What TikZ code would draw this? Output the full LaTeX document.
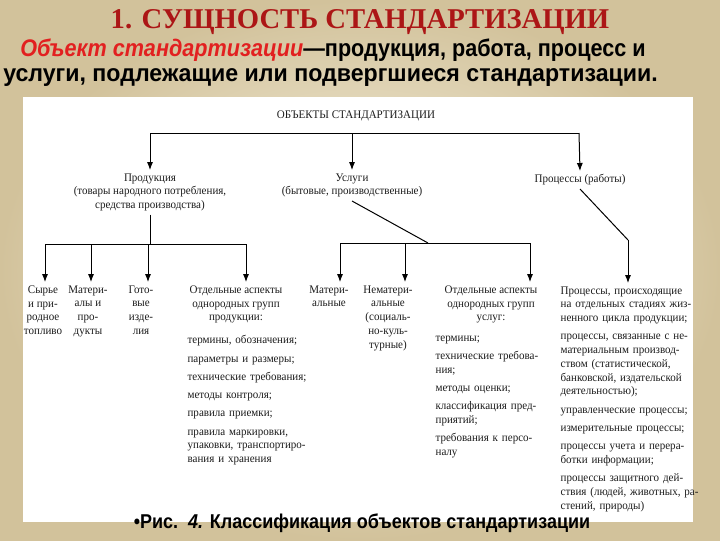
\documentclass[tikz,border=0pt]{standalone}
\usepackage{fontspec}
\setmainfont{Liberation Serif}
\newfontfamily\scanfont[FakeStretch=0.95]{Liberation Serif}
\newfontfamily\slidefont[FakeStretch=0.9]{Liberation Sans}
\newfontfamily\slidewidefont[FakeStretch=0.965]{Liberation Sans}
\usetikzlibrary{arrows.meta}
\definecolor{titlered}{RGB}{172,22,22}
\definecolor{defred}{RGB}{226,32,32}
\definecolor{slidecream}{RGB}{251,247,232}
\definecolor{slidetan}{RGB}{210,194,155}
\definecolor{scanink}{RGB}{28,28,28}
\newcommand{\diagfont}{\scanfont\fontsize{8.7}{10.3}\selectfont}
\newcommand{\fl}[1]{\makebox[\hsize][s]{#1}}
\tikzset{link/.style={line width=0.75pt}, arr/.style={link,-{Latex[length=6pt,width=4.6pt]}},
  lbl/.style={inner sep=2.5pt, font=\diagfont, text=scanink, align=center},
  lst/.style={lbl, align=left, anchor=north west}}

\begin{document}
\begin{tikzpicture}[x=0.75pt,y=-0.75pt]
   \useasboundingbox (0,0) rectangle (720,540);
   \shade[inner color=slidecream, outer color=slidetan] (0,0) rectangle (720,540);
   \fill[white] (23,97) rectangle (693,522);
   % slide header
   \node[text=titlered, font=\fontsize{21.5}{24}\selectfont\bfseries] (title) at (360,22) {1. СУЩНОСТЬ СТАНДАРТИЗАЦИИ};
   \node[anchor=west, inner sep=0pt, font=\slidefont\bfseries\fontsize{18}{20}\selectfont] (def1) at (20,50)
     {\textcolor{defred}{\itshape Объект стандартизации}—продукция, работа, процесс и};
   \node[anchor=west, inner sep=0pt, font=\slidewidefont\bfseries\fontsize{18}{20}\selectfont] (def2) at (3,78)
     {услуги, подлежащие или подвергшиеся стандартизации.};
   % top level
   \node[lbl] (obj) at (356,116) {ОБЪЕКТЫ СТАНДАРТИЗАЦИИ};
   \coordinate (tl) at (150,133);
   \coordinate (tr) at (579,133);
   \coordinate (tm) at (352,133);
   \draw[link] (tl) -- (tr);
   \node[lbl, anchor=north] (prod) at (150,170) {Продукция\\(товары народного потребления,\\средства производства)};
   \node[lbl, anchor=north] (serv) at (352,170) {Услуги\\(бытовые, производственные)};
   \node[lbl] (proc) at (580,180) {Процессы (работы)};
   \draw[arr] (tl) -- (prod.north);
   \draw[arr] (tm) -- (serv.north);
   \draw[arr] (tr) -- (proc.north);
   % products
   \coordinate (p1) at (45,244);
   \coordinate (p2) at (91,244);
   \coordinate (p3) at (148,244);
   \coordinate (p4) at (246,244);
   \node[lbl, anchor=north] (raw) at (43,282) {Сырье\\и при-\\родное\\топливо};
   \node[lbl, anchor=north] (matp) at (88,282) {Матери-\\алы и\\про-\\дукты};
   \node[lbl, anchor=north] (ready) at (141,282) {Гото-\\вые\\изде-\\лия};
   \node[lbl, anchor=north] (aspp) at (236,282) {Отдельные аспекты\\однородных групп\\продукции:};
   \node[lst, text width=90pt] (asppl) at (184,332) {термины, обозначения;\\[3.4pt]
     параметры и размеры;\\[3.4pt]
     технические требования;\\[3.4pt]
     методы контроля;\\[3.4pt]
     правила приемки;\\[3.4pt]
     \fl{правила маркировки,}\\
     \fl{упаковки, транспортиро-}\\
     вания и хранения};
   \draw[link] (prod.south) -- (prod.south |- p3);
   \draw[link] (p1) -- (p4);
   \draw[arr] (p1) -- (p1 |- raw.north);
   \draw[arr] (p2) -- (p2 |- matp.north);
   \draw[arr] (p3) -- (p3 |- ready.north);
   \draw[arr] (p4) -- (p4 |- aspp.north);
   % services
   \coordinate (s0) at (428,243);
   \coordinate (s1) at (340,243);
   \coordinate (s2) at (405,243);
   \coordinate (s3) at (530,243);
   \node[lbl, anchor=north] (mats) at (329,282) {Матери-\\альные};
   \node[lbl, anchor=north] (nonmat) at (388,282) {Нематери-\\альные\\(социаль-\\но-куль-\\турные)};
   \node[lbl, anchor=north] (asps) at (491,282) {Отдельные аспекты\\однородных групп\\услуг:};
   \node[lst, text width=84pt] (aspsl) at (432,332) {термины;\\[3.4pt]
     \fl{технические требова-}\\
     ния;\\[3.4pt]
     методы оценки;\\[3.4pt]
     \fl{классификация пред-}\\
     приятий;\\[3.4pt]
     \fl{требования к персо-}\\
     налу};
   \draw[link] (serv.south) -- (s0);
   \draw[link] (s1) -- (s3);
   \draw[arr] (s1) -- (s1 |- mats.north);
   \draw[arr] (s2) -- (s2 |- nonmat.north);
   \draw[arr] (s3) -- (s3 |- asps.north);
   % processes
   \coordinate (r0) at (628,240);
   \node[lst, text width=99pt] (procl) at (557,283) {\fl{Процессы, происходящие}\\
     \fl{на отдельных стадиях жиз-}\\
     ненного цикла продукции;\\[3.4pt]
     \fl{процессы, связанные с не-}\\
     \fl{материальным производ-}\\
     \fl{ством (статистической,}\\
     \fl{банковской, издательской}\\
     деятельностью);\\[3.4pt]
     управленческие процессы;\\[3.4pt]
     измерительные процессы;\\[3.4pt]
     \fl{процессы учета и перера-}\\
     ботки информации;\\[3.4pt]
     \fl{процессы защитного дей-}\\
     \fl{ствия (людей, животных, ра-}\\
     стений, природы)};
   \draw[link] (proc.south) -- (r0);
   \draw[arr] (r0) -- (r0 |- procl.north);
   % caption
   \node[inner sep=0pt, font=\slidefont\bfseries\fontsize{15}{17}\selectfont] (cap) at (362,523)
     {•Рис.\ \ \textit{4.} Классификация объектов стандартизации};
\end{tikzpicture}
\end{document}
